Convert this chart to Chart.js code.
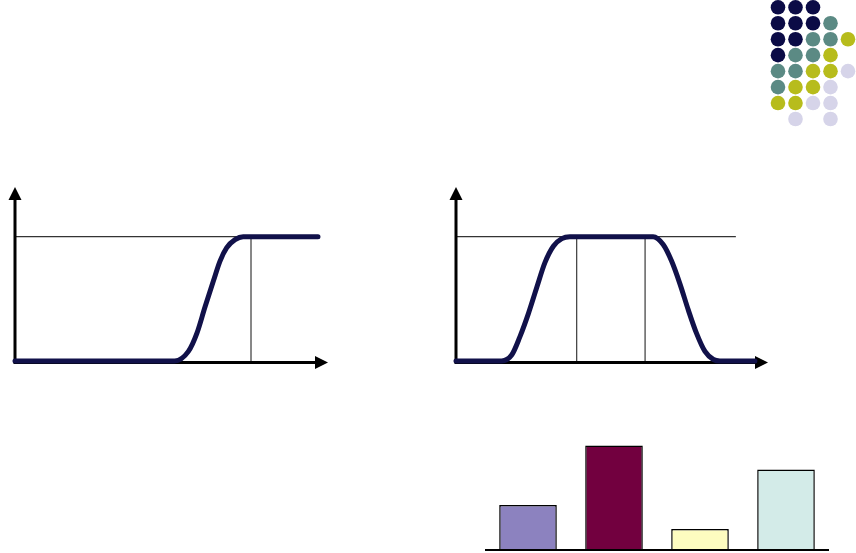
<!DOCTYPE html>
<html>
<head>
<meta charset="utf-8">
<style>
  html, body { margin: 0; padding: 0; background: #fff; }
  body { width: 856px; height: 553px; position: relative; overflow: hidden; }
  canvas { position: absolute; }
</style>
<script src="https://cdn.jsdelivr.net/npm/chart.js@4"></script>
</head>
<body>
<canvas id="dots" width="96" height="130" style="left:760px;top:0px"></canvas>
<canvas id="step" width="340" height="210" style="left:0px;top:170px"></canvas>
<canvas id="pulse" width="340" height="210" style="left:440px;top:170px"></canvas>
<canvas id="bars" width="386" height="123" style="left:470px;top:430px"></canvas>
<script>
// Decorative dot grid: [column, row] per colour
const navyDots  = [[0,0],[1,0],[2,0],[0,1],[1,1],[2,1],[0,2],[1,2],[0,3]];
const tealDots  = [[3,1],[2,2],[3,2],[1,3],[2,3],[0,4],[1,4],[0,5]];
const oliveDots = [[4,2],[3,3],[2,4],[3,4],[1,5],[2,5],[0,6],[1,6]];
const lilacDots = [[4,4],[3,5],[2,6],[3,6],[1,7],[3,7]];

// Step response: rise to the plateau
const stepX = [0, 5.1, 5.54, 5.81, 6.07, 6.34, 6.55, 6.76, 7.03, 7.29, 9.68];
const stepY = [0, 0, 0.077, 0.222, 0.434, 0.645, 0.804, 0.910, 0.976, 1, 1];
const stepLevelEnd = 7.54;
const stepMarks = [7.54];

// Pulse: rise, plateau, fall
const pulseX = [0, 1.46, 1.79, 2.05, 2.32, 2.59, 2.85, 3.12, 3.39, 3.65,
                6.32, 6.64, 6.91, 7.18, 7.45, 7.71, 7.98, 8.25, 8.46, 9.58];
const pulseY = [0, 0, 0.05, 0.196, 0.381, 0.593, 0.791, 0.923, 0.984, 1,
                1, 0.937, 0.804, 0.619, 0.407, 0.222, 0.077, 0.012, 0, 0];
const pulseLevelEnd = 8.97;
const pulseMarks = [3.87, 6.06];

// Bar chart
const barCategories = ['A', 'B', 'C', 'D'];
const barValues = [4.3, 10, 2, 7.7];
const barColors = ['#8c82bf', '#72003f', '#fdfcc0', '#d3ebe8'];

const CURVE = '#11114a';

const toPts = (xs, ys) => xs.map((x, i) => ({ x, y: ys[i] }));
const dotPts = arr => arr.map(([c, r]) => ({ x: c, y: r }));

// Axis lines with arrowheads at the far ends of both scales
const arrowAxes = {
  id: 'arrowAxes',
  beforeDatasetsDraw(chart) {
    const { ctx, scales: { x, y } } = chart;
    const ox = x.getPixelForValue(0), oy = y.getPixelForValue(0) + 1.5;
    const xe = x.getPixelForValue(x.max), ye = y.getPixelForValue(y.max);
    const head = 13, half = 6.5;
    ctx.save();
    ctx.strokeStyle = '#000';
    ctx.fillStyle = '#000';
    ctx.lineWidth = 3;
    ctx.beginPath();
    ctx.moveTo(ox, oy + 1.5); ctx.lineTo(ox, ye + head - 1);
    ctx.moveTo(ox - 1.5, oy); ctx.lineTo(xe - head + 1, oy);
    ctx.stroke();
    ctx.beginPath();
    ctx.moveTo(ox, ye); ctx.lineTo(ox - half, ye + head); ctx.lineTo(ox + half, ye + head);
    ctx.closePath(); ctx.fill();
    ctx.beginPath();
    ctx.moveTo(xe, oy); ctx.lineTo(xe - head, oy - half); ctx.lineTo(xe - head, oy + half);
    ctx.closePath(); ctx.fill();
    ctx.restore();
  }
};

// Baseline under the bars
const baseLine = {
  id: 'baseLine',
  afterDatasetsDraw(chart) {
    const { ctx, chartArea, scales: { y } } = chart;
    const py = y.getPixelForValue(0);
    ctx.save();
    ctx.strokeStyle = '#000';
    ctx.lineWidth = 2;
    ctx.beginPath();
    ctx.moveTo(chartArea.left, py); ctx.lineTo(chartArea.right, py);
    ctx.stroke();
    ctx.restore();
  }
};

const quiet = {
  responsive: false,
  animation: false,
  events: [],
  plugins: { legend: { display: false }, tooltip: { enabled: false } }
};

new Chart(document.getElementById('dots'), {
  type: 'scatter',
  data: {
    datasets: [
      { data: dotPts(navyDots),  backgroundColor: '#0b0b46' },
      { data: dotPts(tealDots),  backgroundColor: '#5b8a84' },
      { data: dotPts(oliveDots), backgroundColor: '#b7bc1c' },
      { data: dotPts(lilacDots), backgroundColor: '#d6d4e9' }
    ].map(d => Object.assign(d, { pointRadius: 7.3, borderWidth: 0, clip: false }))
  },
  options: Object.assign({}, quiet, {
    layout: { padding: { left: 18, right: 8, top: 7, bottom: 11 } },
    scales: {
      x: { type: 'linear', min: 0, max: 4, display: false },
      y: { type: 'linear', min: 0, max: 7, reverse: true, display: false }
    }
  })
});

function refLines(levelEnd, marks) {
  const sets = [{
    data: [{ x: 0, y: 1 }, { x: levelEnd, y: 1 }],
    borderColor: '#000', borderWidth: 1, pointRadius: 0
  }];
  marks.forEach(m => sets.push({
    data: [{ x: m, y: 0 }, { x: m, y: 1 }],
    borderColor: '#111', borderWidth: 1, pointRadius: 0
  }));
  return sets;
}

function curveChart(id, xs, ys, levelEnd, marks, pad) {
  new Chart(document.getElementById(id), {
    type: 'line',
    data: {
      datasets: [{
        data: toPts(xs, ys),
        borderColor: CURVE,
        borderWidth: 5,
        pointRadius: 0,
        cubicInterpolationMode: 'monotone',
        borderCapStyle: 'round',
        borderJoinStyle: 'round',
        clip: false
      }].concat(refLines(levelEnd, marks))
    },
    options: Object.assign({}, quiet, {
      layout: { padding: pad },
      scales: {
        x: { type: 'linear', min: 0, max: 10, display: false },
        y: { type: 'linear', min: 0, max: 1.4, display: false }
      }
    }),
    plugins: [arrowAxes]
  });
}

curveChart('step', stepX, stepY, stepLevelEnd, stepMarks, { left: 15, right: 12, top: 17, bottom: 19 });
curveChart('pulse', pulseX, pulseY, pulseLevelEnd, pulseMarks, { left: 16, right: 12, top: 17, bottom: 19 });

new Chart(document.getElementById('bars'), {
  type: 'bar',
  data: {
    labels: barCategories,
    datasets: [{
      data: barValues,
      backgroundColor: barColors,
      borderColor: '#000',
      borderWidth: 1.5,
      borderSkipped: 'bottom',
      categoryPercentage: 1,
      barPercentage: 0.67
    }]
  },
  options: Object.assign({}, quiet, {
    layout: { padding: { left: 15, right: 27, top: 5, bottom: 3 } },
    scales: {
      x: { display: false },
      y: { min: 0, max: 11, display: false }
    }
  }),
  plugins: [baseLine]
});
</script>
</body>
</html>
